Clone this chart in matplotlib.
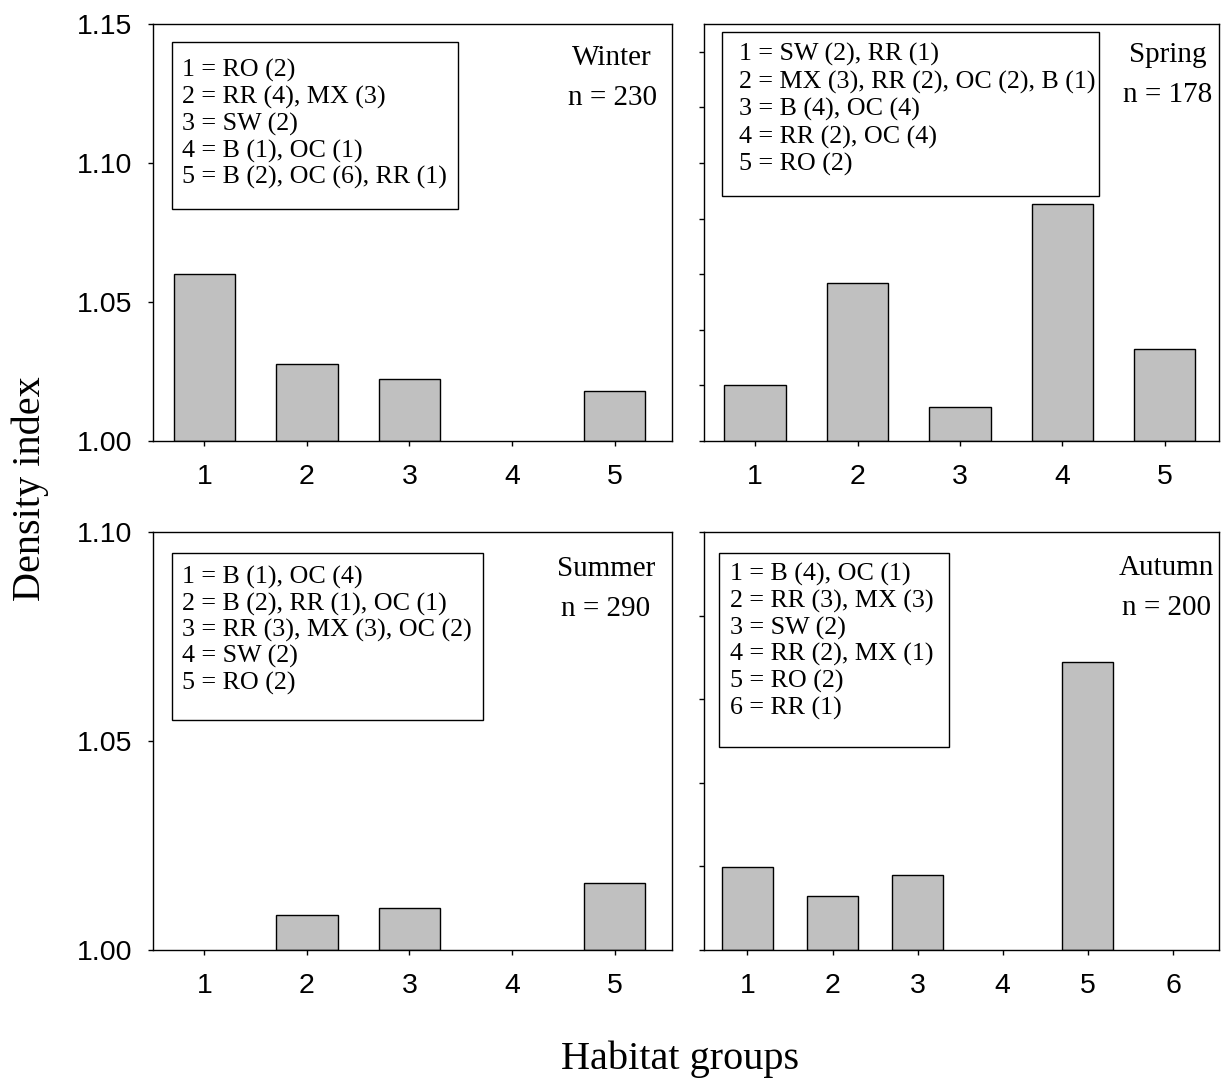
import matplotlib
matplotlib.use('Agg')
import matplotlib.pyplot as plt
from matplotlib.patches import Rectangle

# ---------------- data ----------------
groups5 = [1, 2, 3, 4, 5]
groups6 = [1, 2, 3, 4, 5, 6]

winter = [1.0602, 1.0276, 1.0222, 1.000, 1.0181]
spring = [1.0201, 1.0568, 1.0121, 1.0853, 1.0331]
summer = [1.000, 1.0083, 1.0100, 1.000, 1.0160]
autumn = [1.0199, 1.0128, 1.0179, 1.000, 1.0688, 1.000]

winter_key = ["1 = RO (2)", "2 = RR (4), MX (3)", "3 = SW (2)",
              "4 = B (1), OC (1)", "5 = B (2), OC (6), RR (1)"]
spring_key = ["1 = SW (2), RR (1)", "2 = MX (3), RR (2), OC (2), B (1)",
              "3 = B (4), OC (4)", "4 = RR (2), OC (4)", "5 = RO (2)"]
summer_key = ["1 = B (1), OC (4)", "2 = B (2), RR (1), OC (1)",
              "3 = RR (3), MX (3), OC (2)", "4 = SW (2)", "5 = RO (2)"]
autumn_key = ["1 = B (4), OC (1)", "2 = RR (3), MX (3)", "3 = SW (2)",
              "4 = RR (2), MX (1)", "5 = RO (2)", "6 = RR (1)"]

season_names = ["Winter", "Spring", "Summer", "Autumn"]
season_n = ["n = 230", "n = 178", "n = 290", "n = 200"]

ylabel = "Density index"
xlabel = "Habitat groups"

# ---------------- layout ----------------
W, H = 1231, 1083
fig = plt.figure(figsize=(W / 100, H / 100), dpi=100)

SERIF = ['Liberation Serif', 'DejaVu Serif']
SANS = ['Liberation Sans', 'DejaVu Sans']

# pixel boxes of axes: (left, top, right, bottom)
boxes = [
    (153, 24, 672, 441),
    (704, 24, 1219, 441),
    (153, 532, 672, 950),
    (704, 532, 1219, 950),
]

panels = [
    dict(x=groups5, y=winter, key=winter_key, xlim=(0.5, 5.56), ylim=(1.0, 1.15),
         yticks=[1.00, 1.05, 1.10, 1.15], ylabels=True,
         keybox=(171.7, 41.7, 458.3, 209.3), keytext=(181.7, 77, 26.7),
         lab=(612, 65, 105)),
    dict(x=groups5, y=spring, key=spring_key, xlim=(0.5, 5.53), ylim=(1.0, 1.15),
         yticks=[1.00, 1.02, 1.04, 1.06, 1.08, 1.10, 1.12, 1.14], ylabels=False,
         keybox=(721.7, 32, 1099, 196), keytext=(739.3, 61, 27.4),
         lab=(1168, 62, 102)),
    dict(x=groups5, y=summer, key=summer_key, xlim=(0.5, 5.56), ylim=(1.0, 1.10),
         yticks=[1.00, 1.05, 1.10], ylabels=True,
         keybox=(171.7, 553.3, 482.7, 720), keytext=(181.7, 584, 26.3),
         lab=(606, 576, 616)),
    dict(x=groups6, y=autumn, key=autumn_key, xlim=(0.49, 6.54), ylim=(1.0, 1.10),
         yticks=[1.00, 1.02, 1.04, 1.06, 1.08, 1.10], ylabels=False,
         keybox=(719, 553.3, 949.3, 746.7), keytext=(730, 580.7, 26.7),
         lab=(1166, 575, 615)),
]

for i, (box, p) in enumerate(zip(boxes, panels)):
    l, t, r, b = box
    ax = fig.add_axes([l / W, 1 - b / H, (r - l) / W, (b - t) / H])

    def fx(px, l=l, r=r):
        return (px - l) / (r - l)

    def fy(py, t=t, b=b):
        return (b - py) / (b - t)

    heights = [v - 1.0 for v in p['y']]
    bars = ax.bar(p['x'], heights, bottom=1.0, width=0.6, color='#c0c0c0',
                  edgecolor='black', linewidth=1.0, zorder=2)
    for patch, h in zip(bars, heights):
        if h <= 0:
            patch.set_visible(False)
    ax.set_xlim(*p['xlim'])
    ax.set_ylim(*p['ylim'])
    ax.set_xticks(p['x'])
    ax.set_xticklabels([str(v) for v in p['x']], fontfamily=SANS, fontsize=20.5)
    ax.set_yticks(p['yticks'])
    if p['ylabels']:
        ax.set_yticklabels(['%.2f' % v for v in p['yticks']], fontfamily=SANS,
                           fontsize=20.5)
    else:
        ax.set_yticklabels([])
    ax.tick_params(axis='x', direction='out', length=3.6, width=1.0, pad=13)
    ax.tick_params(axis='y', direction='out', length=3.6, width=1.0, pad=11)
    for s in ax.spines.values():
        s.set_linewidth(1.0)
        s.set_color('black')

    # key box
    kx0, ky0, kx1, ky1 = p['keybox']
    ax.add_patch(Rectangle((fx(kx0), fy(ky1)), fx(kx1) - fx(kx0), fy(ky0) - fy(ky1),
                           transform=ax.transAxes, fill=False, edgecolor='black',
                           linewidth=1.0, zorder=3))
    tx, ty0, dy = p['keytext']
    for j, line in enumerate(p['key']):
        ax.text(fx(tx), fy(ty0 + j * dy), line, transform=ax.transAxes,
                ha='left', va='baseline', fontfamily=SERIF, fontsize=18.7, zorder=4)

    # season label
    lx, ly1, ly2 = p['lab']
    ax.text(fx(lx), fy(ly1), season_names[i], transform=ax.transAxes,
            ha='center', va='baseline', fontfamily=SERIF, fontsize=21)
    ax.text(fx(lx), fy(ly2), season_n[i], transform=ax.transAxes,
            ha='center', va='baseline', fontfamily=SERIF, fontsize=21)

fig.text(30 / W, 1 - 489 / H, ylabel, rotation=90, ha='center', va='center',
         fontfamily=SERIF, fontsize=29)
fig.text(680 / W, 1 - 1069 / H, xlabel, ha='center', va='baseline',
         fontfamily=SERIF, fontsize=29)

fig.savefig('out.png', dpi=100, facecolor='white')
